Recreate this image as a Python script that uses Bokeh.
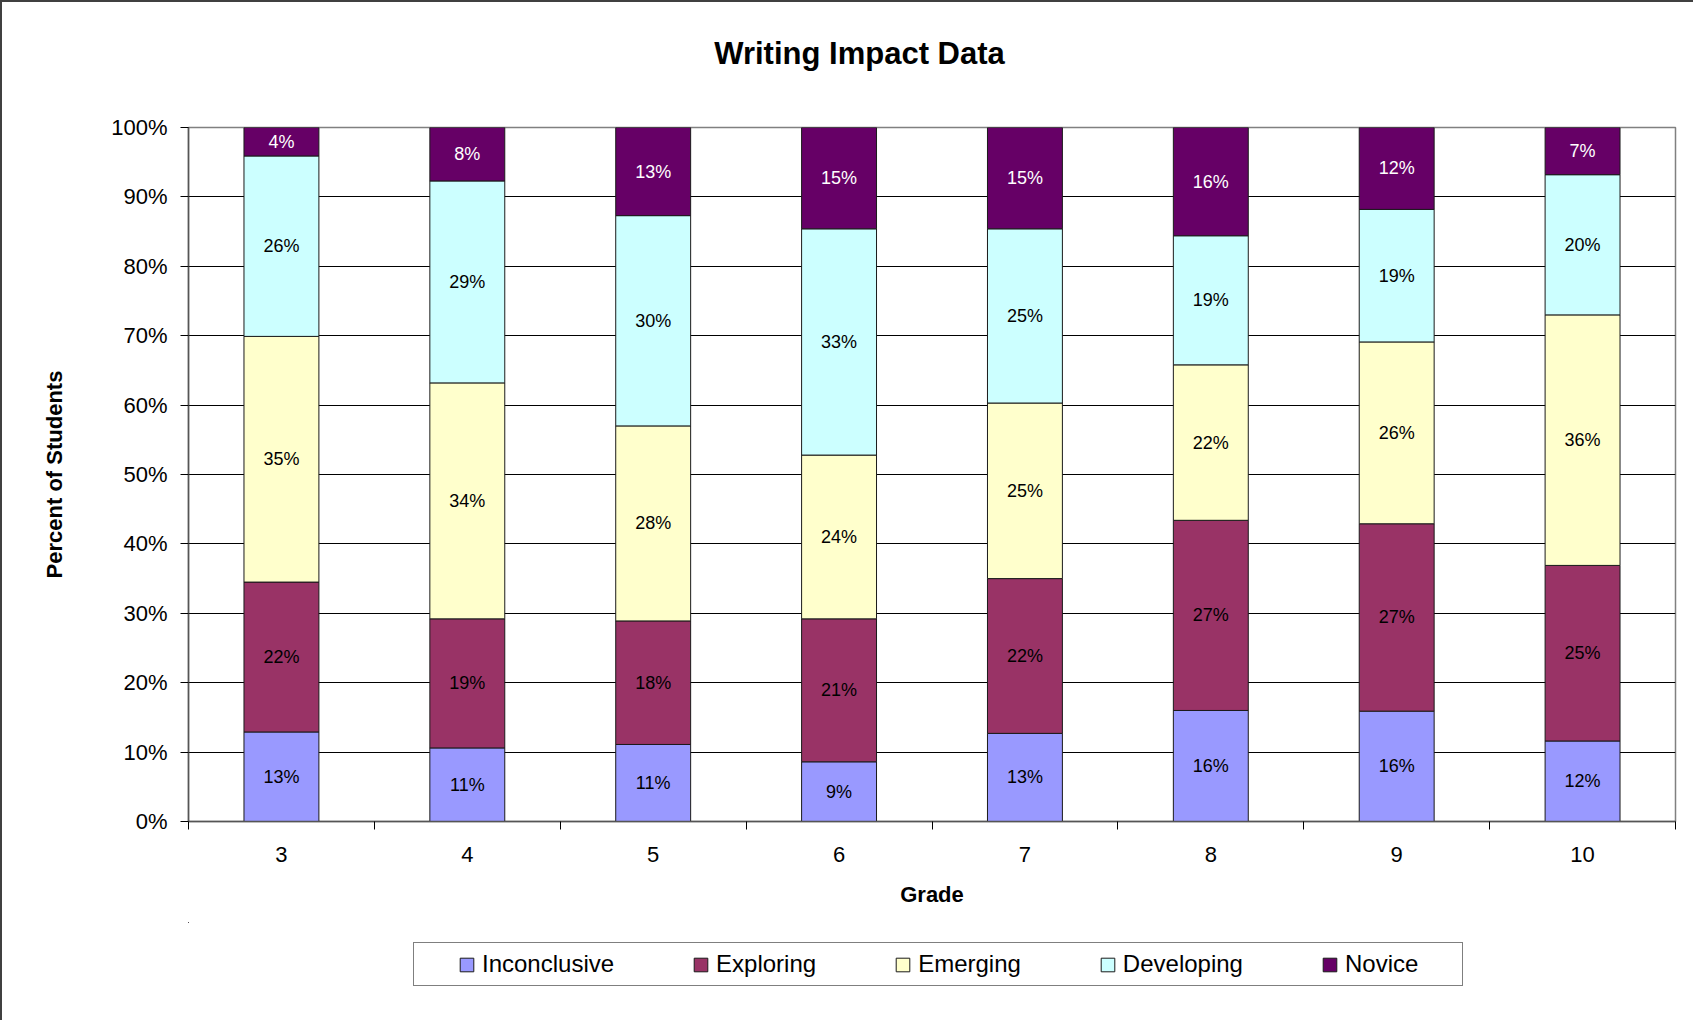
import numpy as np
from bokeh.plotting import figure
from bokeh.layouts import column
from bokeh.models import (ColumnDataSource, Range1d, FixedTicker, PrintfTickFormatter,
                          Legend, LegendItem, Label)
from bokeh.core.properties import value
from bokeh.embed import file_html
from bokeh.resources import INLINE

# ---- data ----
grades = ["3", "4", "5", "6", "7", "8", "9", "10"]
levels = ["Inconclusive", "Exploring", "Emerging", "Developing", "Novice"]
inconclusive = [12.9, 10.6, 11.1, 8.6, 12.7, 16.0, 15.9, 11.6]
exploring = [21.6, 18.6, 17.8, 20.6, 22.3, 27.4, 27.0, 25.3]
emerging = [35.4, 34.0, 28.1, 23.6, 25.3, 22.4, 26.2, 36.1]
developing = [26.0, 29.1, 30.3, 32.6, 25.1, 18.6, 19.1, 20.2]
novice = [4.1, 7.7, 12.7, 14.6, 14.6, 15.6, 11.8, 6.8]
y_ticks = [0, 10, 20, 30, 40, 50, 60, 70, 80, 90, 100]
colors = ["#9999FF", "#993366", "#FFFFCC", "#CCFFFF", "#660066"]
label_colors = ["black", "black", "black", "black", "white"]
title_text = "Writing Impact Data"

FONT = "Liberation Sans"
W = 1691
H0 = 90
H1 = 830
H2 = 98
LEFT = 186
RIGHT = 18

series = [inconclusive, exploring, emerging, developing, novice]
x = list(range(len(grades)))

data = {"x": x}
for lv, s in zip(levels, series):
    data[lv] = s
src = ColumnDataSource(data)


def strip(height):
    f = figure(width=W, height=height, x_range=Range1d(0, 1), y_range=Range1d(0, 1),
               output_backend="svg", toolbar_location=None,
               x_axis_type=None, y_axis_type=None,
               min_border_left=LEFT, min_border_right=RIGHT,
               min_border_top=0, min_border_bottom=0)
    f.outline_line_color = None
    f.background_fill_color = "white"
    f.border_fill_color = "white"
    f.grid.visible = False
    return f


# ---- title strip ----
p0 = strip(H0)
p0.add_layout(Label(x=671, y=39, x_units="screen", y_units="screen", text=title_text,
                    text_font=FONT, text_font_size="31px", text_font_style="bold",
                    text_color="black", text_align="center", text_baseline="middle"))

# ---- main chart ----
p = figure(width=W, height=H1,
           x_range=Range1d(-0.5, len(grades) - 0.5), y_range=Range1d(0, 100),
           output_backend="svg", toolbar_location=None,
           min_border_left=LEFT, min_border_right=RIGHT,
           min_border_top=35, min_border_bottom=101)

p.background_fill_color = "white"
p.border_fill_color = "white"
p.outline_line_color = "#808080"
p.outline_line_width = 1.5

renderers = p.vbar_stack(levels, x="x", width=0.403, source=src,
                         fill_color=colors, line_color="#1a1a1a", line_width=1)

# data labels
lx, ly, lt, lc = [], [], [], []
cum = np.zeros(len(grades))
for s, c in zip(series, label_colors):
    arr = np.array(s, dtype=float)
    for i in range(len(grades)):
        lx.append(x[i])
        ly.append(cum[i] + arr[i] / 2.0)
        lt.append(f"{arr[i]:.0f}%")
        lc.append(c)
    cum = cum + arr
lsrc = ColumnDataSource(dict(x=lx, y=ly, text=lt, color=lc))
p.text(x="x", y="y", text="text", text_color="color", source=lsrc,
       text_align="center", text_baseline="middle",
       text_font=value(FONT), text_font_size="18px")

# x axis
xa = p.xaxis[0]
xa.ticker = FixedTicker(ticks=x, minor_ticks=[i - 0.5 for i in range(len(grades) + 1)])
xa.major_label_overrides = {i: g for i, g in zip(x, grades)}
xa.axis_line_color = "#555555"
xa.axis_line_width = 1.5
xa.major_tick_out = 8
xa.major_tick_in = 0
xa.major_tick_line_color = None
xa.minor_tick_out = 8
xa.minor_tick_in = 0
xa.minor_tick_line_color = "black"
xa.minor_tick_line_width = 1
xa.major_label_text_font = FONT
xa.major_label_text_font_size = "22px"
xa.major_label_text_color = "black"
xa.major_label_standoff = 17
xa.axis_label = "Grade"
xa.axis_label_text_font = FONT
xa.axis_label_text_font_size = "22px"
xa.axis_label_text_font_style = "bold"
xa.axis_label_text_color = "black"
xa.axis_label_standoff = 17

# y axis
ya = p.yaxis[0]
ya.ticker = FixedTicker(ticks=y_ticks, minor_ticks=[])
ya.formatter = PrintfTickFormatter(format="%d%%")
ya.axis_line_color = "#555555"
ya.axis_line_width = 1.5
ya.major_tick_out = 8
ya.major_tick_in = 0
ya.major_tick_line_color = "black"
ya.major_label_text_font = FONT
ya.major_label_text_font_size = "22px"
ya.major_label_text_color = "black"
ya.major_label_standoff = 13
ya.axis_label = "Percent of Students"
ya.axis_label_text_font = FONT
ya.axis_label_text_font_size = "22px"
ya.axis_label_text_font_style = "bold"
ya.axis_label_text_color = "black"
ya.axis_label_standoff = 41

p.xgrid.visible = False
p.ygrid.ticker = FixedTicker(ticks=y_ticks, minor_ticks=[])
p.ygrid.grid_line_color = "black"
p.ygrid.grid_line_width = 1

# ---- legend strip (proxy bars kept outside the visible range) ----
p2 = strip(H2)
leg_rs = []
for c in colors:
    r = p2.vbar(x=[-10], bottom=[5], top=[6], width=0.4,
                fill_color=c, line_color="#1a1a1a", line_width=1)
    leg_rs.append(r)

items = [LegendItem(label=value(lv), renderers=[r]) for lv, r in zip(levels, leg_rs)]
legend = Legend(items=items, orientation="horizontal", location=(225, 34))
legend.label_text_font = FONT
legend.label_text_font_size = "24px"
legend.label_text_color = "black"
legend.glyph_width = 17
legend.glyph_height = 17
legend.label_standoff = 7
legend.spacing = 78
legend.margin = 0
legend.border_line_color = "black"
legend.border_line_width = 1
legend.background_fill_color = "white"
legend.background_fill_alpha = 1
try:
    legend.padding = dict(left=44, right=44, top=7, bottom=7)
except Exception:
    legend.padding = 7
p2.add_layout(legend, "center")

layout = column(p0, p, p2, spacing=0)
try:
    layout.styles = {"border-left": "2px solid #404040", "border-top": "2px solid #404040"}
except Exception:
    pass

open("out.html", "w").write(file_html(layout, INLINE))
